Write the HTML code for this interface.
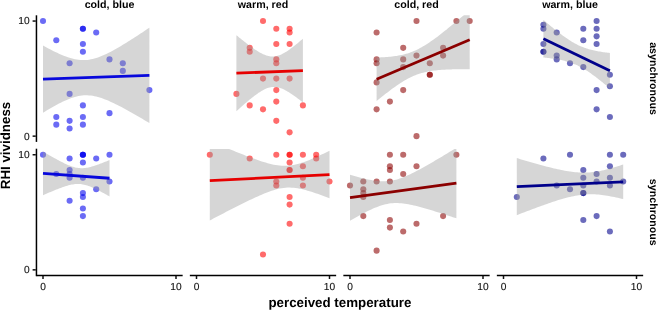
<!DOCTYPE html>
<html><head><meta charset="utf-8"><title>RHI vividness</title>
<style>html,body{margin:0;padding:0;background:#fff}svg{display:block;will-change:transform}text{font-family:"Liberation Sans",Arial,sans-serif;fill:#000;text-rendering:geometricPrecision}.b{font-weight:bold}.t{font-size:10.2px;fill:#111;stroke:#111;stroke-width:.12px}</style></head>
<body>
<svg width="658" height="310" viewBox="0 0 658 310">
<rect width="658" height="310" fill="#fff"/>
<defs>
<clipPath id="c00"><rect x="36.35" y="15.30" width="146.30" height="126.60"/></clipPath>
<clipPath id="c01"><rect x="189.85" y="15.30" width="146.30" height="126.60"/></clipPath>
<clipPath id="c02"><rect x="343.35" y="15.30" width="146.30" height="126.60"/></clipPath>
<clipPath id="c03"><rect x="496.85" y="15.30" width="146.30" height="126.60"/></clipPath>
<clipPath id="c10"><rect x="36.35" y="149.00" width="146.30" height="126.60"/></clipPath>
<clipPath id="c11"><rect x="189.85" y="149.00" width="146.30" height="126.60"/></clipPath>
<clipPath id="c12"><rect x="343.35" y="149.00" width="146.30" height="126.60"/></clipPath>
<clipPath id="c13"><rect x="496.85" y="149.00" width="146.30" height="126.60"/></clipPath>
</defs>
<g clip-path="url(#c00)">
<g fill="#0000ee" fill-opacity="0.58">
<circle cx="43.00" cy="21.05" r="3.05"/>
<circle cx="82.90" cy="28.77" r="3.05"/>
<circle cx="82.90" cy="28.77" r="3.05"/>
<circle cx="96.20" cy="32.56" r="3.05"/>
<circle cx="56.30" cy="40.27" r="3.05"/>
<circle cx="82.90" cy="44.07" r="3.05"/>
<circle cx="82.90" cy="51.78" r="3.05"/>
<circle cx="69.60" cy="63.29" r="3.05"/>
<circle cx="109.50" cy="59.38" r="3.05"/>
<circle cx="122.80" cy="63.29" r="3.05"/>
<circle cx="122.80" cy="70.89" r="3.05"/>
<circle cx="149.40" cy="90.11" r="3.05"/>
<circle cx="69.60" cy="93.91" r="3.05"/>
<circle cx="82.90" cy="105.42" r="3.05"/>
<circle cx="109.50" cy="113.13" r="3.05"/>
<circle cx="56.30" cy="116.93" r="3.05"/>
<circle cx="56.30" cy="124.64" r="3.05"/>
<circle cx="69.60" cy="120.84" r="3.05"/>
<circle cx="69.60" cy="128.43" r="3.05"/>
<circle cx="82.90" cy="116.93" r="3.05"/>
<circle cx="82.90" cy="124.64" r="3.05"/>
</g>
<polygon points="43.00,45.56 44.77,46.52 46.55,47.48 48.32,48.42 50.09,49.34 51.87,50.24 53.64,51.13 55.41,51.99 57.19,52.83 58.96,53.65 60.73,54.43 62.51,55.18 64.28,55.89 66.05,56.57 67.83,57.20 69.60,57.78 71.37,58.31 73.15,58.78 74.92,59.18 76.69,59.52 78.47,59.78 80.24,59.97 82.01,60.08 83.79,60.10 85.56,60.04 87.33,59.90 89.11,59.67 90.88,59.37 92.65,58.98 94.43,58.53 96.20,58.00 97.97,57.41 99.75,56.76 101.52,56.06 103.29,55.31 105.07,54.51 106.84,53.68 108.61,52.80 110.39,51.90 112.16,50.96 113.93,50.00 115.71,49.01 117.48,48.00 119.25,46.97 121.03,45.92 122.80,44.86 124.57,43.78 126.35,42.69 128.12,41.58 129.89,40.47 131.67,39.34 133.44,38.21 135.21,37.06 136.99,35.91 138.76,34.76 140.53,33.59 142.31,32.42 144.08,31.24 145.85,30.06 147.63,28.87 149.40,27.68 149.40,123.07 147.63,122.01 145.85,120.95 144.08,119.89 142.31,118.84 140.53,117.80 138.76,116.76 136.99,115.73 135.21,114.70 133.44,113.69 131.67,112.68 129.89,111.68 128.12,110.69 126.35,109.71 124.57,108.75 122.80,107.80 121.03,106.86 119.25,105.94 117.48,105.04 115.71,104.15 113.93,103.29 112.16,102.45 110.39,101.64 108.61,100.86 106.84,100.12 105.07,99.41 103.29,98.74 101.52,98.11 99.75,97.53 97.97,97.01 96.20,96.55 94.43,96.15 92.65,95.82 90.88,95.56 89.11,95.39 87.33,95.29 85.56,95.27 83.79,95.34 82.01,95.49 80.24,95.72 78.47,96.04 76.69,96.43 74.92,96.89 73.15,97.42 71.37,98.02 69.60,98.67 67.83,99.38 66.05,100.14 64.28,100.94 62.51,101.78 60.73,102.66 58.96,103.57 57.19,104.51 55.41,105.47 53.64,106.46 51.87,107.47 50.09,108.51 48.32,109.55 46.55,110.62 44.77,111.70 43.00,112.79" fill="#999999" fill-opacity="0.4"/>
<line x1="43.00" y1="79.18" x2="149.40" y2="75.38" stroke="#0808dc" stroke-width="2.8"/>
</g>
<g clip-path="url(#c01)">
<g fill="#ff0000" fill-opacity="0.58">
<circle cx="263.00" cy="21.05" r="3.05"/>
<circle cx="276.30" cy="28.77" r="3.05"/>
<circle cx="289.60" cy="28.77" r="3.05"/>
<circle cx="289.60" cy="32.56" r="3.05"/>
<circle cx="276.30" cy="44.07" r="3.05"/>
<circle cx="289.60" cy="44.07" r="3.05"/>
<circle cx="249.70" cy="47.87" r="3.05"/>
<circle cx="249.70" cy="51.78" r="3.05"/>
<circle cx="276.30" cy="59.38" r="3.05"/>
<circle cx="276.30" cy="63.29" r="3.05"/>
<circle cx="263.00" cy="78.60" r="3.05"/>
<circle cx="276.30" cy="78.60" r="3.05"/>
<circle cx="289.60" cy="78.60" r="3.05"/>
<circle cx="276.30" cy="90.11" r="3.05"/>
<circle cx="236.40" cy="93.91" r="3.05"/>
<circle cx="276.30" cy="101.62" r="3.05"/>
<circle cx="249.70" cy="105.42" r="3.05"/>
<circle cx="263.00" cy="109.33" r="3.05"/>
<circle cx="302.90" cy="105.42" r="3.05"/>
<circle cx="276.30" cy="120.84" r="3.05"/>
<circle cx="289.60" cy="132.35" r="3.05"/>
</g>
<polygon points="236.40,35.20 237.51,36.12 238.62,37.03 239.72,37.93 240.83,38.83 241.94,39.72 243.05,40.60 244.16,41.48 245.27,42.35 246.38,43.21 247.48,44.06 248.59,44.90 249.70,45.73 250.81,46.54 251.92,47.34 253.03,48.12 254.13,48.89 255.24,49.64 256.35,50.37 257.46,51.07 258.57,51.75 259.68,52.39 260.78,53.01 261.89,53.59 263.00,54.13 264.11,54.62 265.22,55.07 266.32,55.47 267.43,55.81 268.54,56.09 269.65,56.31 270.76,56.46 271.87,56.54 272.98,56.55 274.08,56.49 275.19,56.35 276.30,56.15 277.41,55.87 278.52,55.53 279.62,55.13 280.73,54.67 281.84,54.16 282.95,53.60 284.06,52.99 285.17,52.34 286.27,51.65 287.38,50.93 288.49,50.18 289.60,49.40 290.71,48.60 291.82,47.77 292.93,46.93 294.03,46.06 295.14,45.18 296.25,44.29 297.36,43.38 298.47,42.45 299.57,41.52 300.68,40.58 301.79,39.63 302.90,38.66 302.90,102.42 301.79,101.55 300.68,100.69 299.57,99.83 298.47,98.99 297.36,98.15 296.25,97.33 295.14,96.52 294.03,95.73 292.93,94.95 291.82,94.20 290.71,93.46 289.60,92.74 288.49,92.05 287.38,91.39 286.27,90.76 285.17,90.16 284.06,89.60 282.95,89.08 281.84,88.60 280.73,88.18 279.62,87.81 278.52,87.49 277.41,87.24 276.30,87.06 275.19,86.94 274.08,86.89 272.98,86.92 271.87,87.02 270.76,87.18 269.65,87.42 268.54,87.73 267.43,88.10 266.32,88.53 265.22,89.01 264.11,89.55 263.00,90.14 261.89,90.76 260.78,91.43 259.68,92.14 258.57,92.87 257.46,93.64 256.35,94.43 255.24,95.24 254.13,96.08 253.03,96.93 251.92,97.81 250.81,98.69 249.70,99.60 248.59,100.51 247.48,101.44 246.38,102.38 245.27,103.33 244.16,104.28 243.05,105.25 241.94,106.22 240.83,107.20 239.72,108.19 238.62,109.18 237.51,110.18 236.40,111.18" fill="#999999" fill-opacity="0.4"/>
<line x1="236.40" y1="73.19" x2="302.90" y2="70.54" stroke="#e60000" stroke-width="2.8"/>
</g>
<g clip-path="url(#c02)">
<g fill="#8b0000" fill-opacity="0.58">
<circle cx="416.50" cy="21.05" r="3.05"/>
<circle cx="456.40" cy="21.05" r="3.05"/>
<circle cx="469.70" cy="21.05" r="3.05"/>
<circle cx="376.60" cy="32.56" r="3.05"/>
<circle cx="403.20" cy="47.87" r="3.05"/>
<circle cx="443.10" cy="47.87" r="3.05"/>
<circle cx="443.10" cy="55.58" r="3.05"/>
<circle cx="416.50" cy="55.58" r="3.05"/>
<circle cx="376.60" cy="59.38" r="3.05"/>
<circle cx="376.60" cy="63.29" r="3.05"/>
<circle cx="403.20" cy="59.38" r="3.05"/>
<circle cx="403.20" cy="67.09" r="3.05"/>
<circle cx="429.80" cy="63.29" r="3.05"/>
<circle cx="429.80" cy="74.80" r="3.05"/>
<circle cx="429.80" cy="74.80" r="3.05"/>
<circle cx="376.60" cy="82.40" r="3.05"/>
<circle cx="403.20" cy="90.11" r="3.05"/>
<circle cx="389.90" cy="101.62" r="3.05"/>
<circle cx="376.60" cy="109.33" r="3.05"/>
<circle cx="416.50" cy="136.15" r="3.05"/>
</g>
<polygon points="376.60,57.51 378.15,57.46 379.70,57.41 381.25,57.34 382.81,57.26 384.36,57.17 385.91,57.07 387.46,56.96 389.01,56.82 390.57,56.68 392.12,56.51 393.67,56.32 395.22,56.11 396.77,55.88 398.32,55.62 399.88,55.34 401.43,55.02 402.98,54.67 404.53,54.28 406.08,53.86 407.63,53.39 409.19,52.89 410.74,52.34 412.29,51.75 413.84,51.11 415.39,50.43 416.94,49.70 418.50,48.93 420.05,48.12 421.60,47.26 423.15,46.36 424.70,45.43 426.25,44.46 427.81,43.46 429.36,42.43 430.91,41.36 432.46,40.28 434.01,39.17 435.56,38.03 437.12,36.88 438.67,35.71 440.22,34.52 441.77,33.32 443.32,32.10 444.87,30.87 446.43,29.63 447.98,28.37 449.53,27.11 451.08,25.84 452.63,24.56 454.18,23.27 455.74,21.98 457.29,20.68 458.84,19.37 460.39,18.06 461.94,16.74 463.49,15.42 465.05,14.09 466.60,12.76 468.15,11.43 469.70,10.09 469.70,69.31 468.15,69.29 466.60,69.28 465.05,69.26 463.49,69.26 461.94,69.26 460.39,69.26 458.84,69.27 457.29,69.28 455.74,69.30 454.18,69.32 452.63,69.36 451.08,69.39 449.53,69.44 447.98,69.50 446.43,69.57 444.87,69.64 443.32,69.73 441.77,69.84 440.22,69.95 438.67,70.08 437.12,70.23 435.56,70.40 434.01,70.59 432.46,70.79 430.91,71.03 429.36,71.29 427.81,71.57 426.25,71.89 424.70,72.24 423.15,72.63 421.60,73.05 420.05,73.51 418.50,74.02 416.94,74.57 415.39,75.16 413.84,75.80 412.29,76.48 410.74,77.21 409.19,77.98 407.63,78.79 406.08,79.65 404.53,80.55 402.98,81.48 401.43,82.45 399.88,83.45 398.32,84.48 396.77,85.54 395.22,86.63 393.67,87.74 392.12,88.87 390.57,90.03 389.01,91.20 387.46,92.39 385.91,93.59 384.36,94.81 382.81,96.04 381.25,97.28 379.70,98.53 378.15,99.80 376.60,101.07" fill="#999999" fill-opacity="0.4"/>
<line x1="376.60" y1="79.29" x2="469.70" y2="39.70" stroke="#8b0000" stroke-width="2.8"/>
</g>
<g clip-path="url(#c03)">
<g fill="#00008b" fill-opacity="0.58">
<circle cx="596.60" cy="21.05" r="3.05"/>
<circle cx="596.60" cy="28.77" r="3.05"/>
<circle cx="596.60" cy="36.36" r="3.05"/>
<circle cx="596.60" cy="44.07" r="3.05"/>
<circle cx="583.30" cy="28.77" r="3.05"/>
<circle cx="583.30" cy="40.27" r="3.05"/>
<circle cx="543.40" cy="24.85" r="3.05"/>
<circle cx="543.40" cy="28.77" r="3.05"/>
<circle cx="556.70" cy="32.56" r="3.05"/>
<circle cx="543.40" cy="44.07" r="3.05"/>
<circle cx="543.40" cy="51.78" r="3.05"/>
<circle cx="543.40" cy="51.78" r="3.05"/>
<circle cx="556.70" cy="55.58" r="3.05"/>
<circle cx="556.70" cy="59.38" r="3.05"/>
<circle cx="570.00" cy="63.29" r="3.05"/>
<circle cx="583.30" cy="67.09" r="3.05"/>
<circle cx="609.90" cy="74.80" r="3.05"/>
<circle cx="609.90" cy="86.31" r="3.05"/>
<circle cx="596.60" cy="90.11" r="3.05"/>
<circle cx="596.60" cy="109.33" r="3.05"/>
<circle cx="609.90" cy="116.93" r="3.05"/>
</g>
<polygon points="543.40,19.88 544.51,20.84 545.62,21.78 546.73,22.73 547.83,23.66 548.94,24.60 550.05,25.52 551.16,26.44 552.27,27.36 553.38,28.26 554.48,29.16 555.59,30.05 556.70,30.94 557.81,31.81 558.92,32.67 560.02,33.52 561.13,34.36 562.24,35.19 563.35,36.00 564.46,36.80 565.57,37.58 566.68,38.35 567.78,39.10 568.89,39.83 570.00,40.54 571.11,41.23 572.22,41.90 573.33,42.54 574.43,43.17 575.54,43.77 576.65,44.34 577.76,44.90 578.87,45.42 579.98,45.93 581.08,46.41 582.19,46.86 583.30,47.29 584.41,47.71 585.52,48.09 586.62,48.46 587.73,48.81 588.84,49.14 589.95,49.45 591.06,49.74 592.17,50.02 593.28,50.28 594.38,50.53 595.49,50.77 596.60,50.99 597.71,51.21 598.82,51.41 599.93,51.60 601.03,51.78 602.14,51.96 603.25,52.13 604.36,52.28 605.47,52.44 606.58,52.58 607.68,52.72 608.79,52.86 609.90,52.99 609.90,88.56 608.79,87.62 607.68,86.68 606.58,85.75 605.47,84.83 604.36,83.91 603.25,83.00 602.14,82.10 601.03,81.20 599.93,80.31 598.82,79.44 597.71,78.57 596.60,77.71 595.49,76.86 594.38,76.03 593.28,75.21 592.17,74.40 591.06,73.61 589.95,72.83 588.84,72.07 587.73,71.33 586.62,70.61 585.52,69.91 584.41,69.22 583.30,68.56 582.19,67.93 581.08,67.31 579.98,66.72 578.87,66.15 577.76,65.61 576.65,65.09 575.54,64.60 574.43,64.13 573.33,63.68 572.22,63.26 571.11,62.86 570.00,62.48 568.89,62.12 567.78,61.78 566.68,61.46 565.57,61.15 564.46,60.87 563.35,60.59 562.24,60.34 561.13,60.09 560.02,59.86 558.92,59.64 557.81,59.43 556.70,59.23 555.59,59.05 554.48,58.87 553.38,58.70 552.27,58.53 551.16,58.38 550.05,58.23 548.94,58.08 547.83,57.94 546.73,57.81 545.62,57.68 544.51,57.56 543.40,57.44" fill="#999999" fill-opacity="0.4"/>
<line x1="543.40" y1="38.66" x2="609.90" y2="70.77" stroke="#00008b" stroke-width="2.8"/>
</g>
<g clip-path="url(#c10)">
<g fill="#0000ee" fill-opacity="0.58">
<circle cx="43.00" cy="154.75" r="3.05"/>
<circle cx="82.90" cy="154.75" r="3.05"/>
<circle cx="82.90" cy="154.75" r="3.05"/>
<circle cx="82.90" cy="154.75" r="3.05"/>
<circle cx="109.50" cy="154.75" r="3.05"/>
<circle cx="69.60" cy="158.55" r="3.05"/>
<circle cx="96.20" cy="158.55" r="3.05"/>
<circle cx="82.90" cy="162.47" r="3.05"/>
<circle cx="69.60" cy="170.06" r="3.05"/>
<circle cx="56.30" cy="173.97" r="3.05"/>
<circle cx="69.60" cy="173.97" r="3.05"/>
<circle cx="69.60" cy="177.77" r="3.05"/>
<circle cx="82.90" cy="177.77" r="3.05"/>
<circle cx="109.50" cy="181.57" r="3.05"/>
<circle cx="96.20" cy="189.28" r="3.05"/>
<circle cx="82.90" cy="193.08" r="3.05"/>
<circle cx="82.90" cy="196.99" r="3.05"/>
<circle cx="69.60" cy="200.79" r="3.05"/>
<circle cx="82.90" cy="208.50" r="3.05"/>
<circle cx="82.90" cy="216.10" r="3.05"/>
</g>
<polygon points="43.00,151.54 44.11,152.19 45.22,152.84 46.33,153.49 47.43,154.13 48.54,154.77 49.65,155.40 50.76,156.03 51.87,156.66 52.98,157.28 54.08,157.90 55.19,158.52 56.30,159.12 57.41,159.72 58.52,160.32 59.62,160.90 60.73,161.47 61.84,162.04 62.95,162.59 64.06,163.13 65.17,163.66 66.28,164.17 67.38,164.66 68.49,165.13 69.60,165.58 70.71,166.00 71.82,166.40 72.93,166.76 74.03,167.09 75.14,167.38 76.25,167.63 77.36,167.84 78.47,168.00 79.58,168.12 80.68,168.18 81.79,168.21 82.90,168.18 84.01,168.11 85.12,168.00 86.22,167.85 87.33,167.67 88.44,167.45 89.55,167.20 90.66,166.92 91.77,166.62 92.88,166.30 93.98,165.96 95.09,165.61 96.20,165.23 97.31,164.85 98.42,164.45 99.53,164.04 100.63,163.62 101.74,163.19 102.85,162.76 103.96,162.31 105.07,161.87 106.18,161.41 107.28,160.95 108.39,160.49 109.50,160.02 109.50,196.45 108.39,195.82 107.28,195.19 106.18,194.57 105.07,193.96 103.96,193.35 102.85,192.74 101.74,192.15 100.63,191.56 99.53,190.98 98.42,190.41 97.31,189.85 96.20,189.30 95.09,188.77 93.98,188.25 92.88,187.75 91.77,187.26 90.66,186.80 89.55,186.37 88.44,185.96 87.33,185.58 86.22,185.23 85.12,184.92 84.01,184.65 82.90,184.42 81.79,184.23 80.68,184.09 79.58,184.00 78.47,183.95 77.36,183.95 76.25,184.00 75.14,184.09 74.03,184.22 72.93,184.39 71.82,184.59 70.71,184.82 69.60,185.08 68.49,185.37 67.38,185.68 66.28,186.01 65.17,186.36 64.06,186.73 62.95,187.11 61.84,187.50 60.73,187.90 59.62,188.32 58.52,188.74 57.41,189.17 56.30,189.61 55.19,190.06 54.08,190.51 52.98,190.96 51.87,191.43 50.76,191.89 49.65,192.36 48.54,192.84 47.43,193.32 46.33,193.80 45.22,194.28 44.11,194.77 43.00,195.26" fill="#999999" fill-opacity="0.4"/>
<line x1="43.00" y1="173.40" x2="109.50" y2="178.23" stroke="#0808dc" stroke-width="2.8"/>
</g>
<g clip-path="url(#c11)">
<g fill="#ff0000" fill-opacity="0.58">
<circle cx="209.80" cy="154.75" r="3.05"/>
<circle cx="249.70" cy="158.55" r="3.05"/>
<circle cx="276.30" cy="154.75" r="3.05"/>
<circle cx="289.60" cy="154.75" r="3.05"/>
<circle cx="289.60" cy="154.75" r="3.05"/>
<circle cx="302.90" cy="154.75" r="3.05"/>
<circle cx="316.20" cy="154.75" r="3.05"/>
<circle cx="316.20" cy="158.55" r="3.05"/>
<circle cx="289.60" cy="162.47" r="3.05"/>
<circle cx="302.90" cy="166.26" r="3.05"/>
<circle cx="289.60" cy="170.06" r="3.05"/>
<circle cx="289.60" cy="170.06" r="3.05"/>
<circle cx="302.90" cy="177.77" r="3.05"/>
<circle cx="276.30" cy="181.57" r="3.05"/>
<circle cx="276.30" cy="185.48" r="3.05"/>
<circle cx="302.90" cy="185.48" r="3.05"/>
<circle cx="329.50" cy="181.57" r="3.05"/>
<circle cx="289.60" cy="196.99" r="3.05"/>
<circle cx="289.60" cy="204.59" r="3.05"/>
<circle cx="289.60" cy="223.81" r="3.05"/>
<circle cx="263.00" cy="254.54" r="3.05"/>
</g>
<polygon points="209.80,140.84 211.79,141.68 213.79,142.53 215.78,143.38 217.78,144.22 219.78,145.06 221.77,145.90 223.76,146.73 225.76,147.57 227.75,148.40 229.75,149.22 231.75,150.04 233.74,150.86 235.74,151.67 237.73,152.47 239.72,153.27 241.72,154.06 243.72,154.85 245.71,155.63 247.70,156.39 249.70,157.15 251.69,157.89 253.69,158.62 255.69,159.34 257.68,160.04 259.68,160.72 261.67,161.38 263.66,162.01 265.66,162.61 267.65,163.18 269.65,163.71 271.64,164.20 273.64,164.64 275.63,165.02 277.63,165.34 279.62,165.59 281.62,165.76 283.62,165.85 285.61,165.85 287.61,165.76 289.60,165.59 291.60,165.32 293.59,164.97 295.59,164.55 297.58,164.05 299.57,163.48 301.57,162.86 303.56,162.19 305.56,161.47 307.56,160.70 309.55,159.91 311.55,159.08 313.54,158.23 315.53,157.35 317.53,156.46 319.52,155.54 321.52,154.61 323.51,153.67 325.51,152.71 327.50,151.75 329.50,150.77 329.50,198.33 327.50,197.56 325.51,196.79 323.51,196.04 321.52,195.30 319.52,194.57 317.53,193.86 315.53,193.17 313.54,192.50 311.55,191.85 309.55,191.22 307.56,190.63 305.56,190.07 303.56,189.56 301.57,189.09 299.57,188.67 297.58,188.31 295.59,188.01 293.59,187.79 291.60,187.64 289.60,187.58 287.61,187.61 285.61,187.73 283.62,187.93 281.62,188.22 279.62,188.60 277.63,189.05 275.63,189.57 273.64,190.16 271.64,190.80 269.65,191.49 267.65,192.22 265.66,192.99 263.66,193.80 261.67,194.64 259.68,195.50 257.68,196.38 255.69,197.28 253.69,198.20 251.69,199.14 249.70,200.08 247.70,201.04 245.71,202.02 243.72,202.99 241.72,203.98 239.72,204.98 237.73,205.98 235.74,206.99 233.74,208.00 231.75,209.02 229.75,210.05 227.75,211.07 225.76,212.11 223.76,213.14 221.77,214.18 219.78,215.22 217.78,216.27 215.78,217.31 213.79,218.36 211.79,219.41 209.80,220.46" fill="#999999" fill-opacity="0.4"/>
<line x1="209.80" y1="180.65" x2="329.50" y2="174.55" stroke="#e60000" stroke-width="2.8"/>
</g>
<g clip-path="url(#c12)">
<g fill="#8b0000" fill-opacity="0.58">
<circle cx="389.90" cy="154.75" r="3.05"/>
<circle cx="403.20" cy="154.75" r="3.05"/>
<circle cx="456.40" cy="154.75" r="3.05"/>
<circle cx="389.90" cy="166.26" r="3.05"/>
<circle cx="389.90" cy="170.06" r="3.05"/>
<circle cx="416.50" cy="166.26" r="3.05"/>
<circle cx="403.20" cy="173.97" r="3.05"/>
<circle cx="363.30" cy="181.57" r="3.05"/>
<circle cx="376.60" cy="181.57" r="3.05"/>
<circle cx="389.90" cy="181.57" r="3.05"/>
<circle cx="350.00" cy="185.48" r="3.05"/>
<circle cx="363.30" cy="189.28" r="3.05"/>
<circle cx="363.30" cy="193.08" r="3.05"/>
<circle cx="363.30" cy="196.99" r="3.05"/>
<circle cx="363.30" cy="216.10" r="3.05"/>
<circle cx="389.90" cy="220.01" r="3.05"/>
<circle cx="443.10" cy="216.10" r="3.05"/>
<circle cx="389.90" cy="227.61" r="3.05"/>
<circle cx="403.20" cy="231.52" r="3.05"/>
<circle cx="416.50" cy="223.81" r="3.05"/>
<circle cx="376.60" cy="250.63" r="3.05"/>
</g>
<polygon points="350.00,174.66 351.77,175.19 353.55,175.71 355.32,176.22 357.09,176.72 358.87,177.21 360.64,177.68 362.41,178.13 364.19,178.57 365.96,178.99 367.73,179.39 369.51,179.76 371.28,180.10 373.05,180.41 374.83,180.68 376.60,180.92 378.37,181.11 380.15,181.24 381.92,181.33 383.69,181.35 385.47,181.32 387.24,181.21 389.01,181.04 390.79,180.80 392.56,180.48 394.33,180.10 396.11,179.65 397.88,179.14 399.65,178.56 401.43,177.94 403.20,177.26 404.97,176.54 406.75,175.78 408.52,174.98 410.29,174.16 412.07,173.30 413.84,172.41 415.61,171.51 417.39,170.58 419.16,169.64 420.93,168.68 422.71,167.71 424.48,166.72 426.25,165.72 428.03,164.71 429.80,163.70 431.57,162.67 433.35,161.64 435.12,160.60 436.89,159.55 438.67,158.50 440.44,157.44 442.21,156.38 443.99,155.32 445.76,154.25 447.53,153.17 449.31,152.10 451.08,151.02 452.85,149.94 454.63,148.85 456.40,147.76 456.40,218.37 454.63,217.77 452.85,217.17 451.08,216.58 449.31,215.98 447.53,215.40 445.76,214.81 443.99,214.23 442.21,213.65 440.44,213.07 438.67,212.50 436.89,211.94 435.12,211.38 433.35,210.83 431.57,210.28 429.80,209.74 428.03,209.22 426.25,208.69 424.48,208.18 422.71,207.68 420.93,207.20 419.16,206.73 417.39,206.27 415.61,205.83 413.84,205.41 412.07,205.02 410.29,204.65 408.52,204.30 406.75,203.99 404.97,203.72 403.20,203.49 401.43,203.30 399.65,203.16 397.88,203.08 396.11,203.05 394.33,203.09 392.56,203.19 390.79,203.37 389.01,203.61 387.24,203.92 385.47,204.31 383.69,204.76 381.92,205.27 380.15,205.84 378.37,206.47 376.60,207.14 374.83,207.86 373.05,208.62 371.28,209.42 369.51,210.25 367.73,211.11 365.96,211.99 364.19,212.90 362.41,213.82 360.64,214.77 358.87,215.72 357.09,216.70 355.32,217.68 353.55,218.68 351.77,219.69 350.00,220.71" fill="#999999" fill-opacity="0.4"/>
<line x1="350.00" y1="197.68" x2="456.40" y2="183.07" stroke="#8b0000" stroke-width="2.8"/>
</g>
<g clip-path="url(#c13)">
<g fill="#00008b" fill-opacity="0.58">
<circle cx="543.40" cy="158.55" r="3.05"/>
<circle cx="570.00" cy="154.75" r="3.05"/>
<circle cx="609.90" cy="154.75" r="3.05"/>
<circle cx="623.20" cy="154.75" r="3.05"/>
<circle cx="609.90" cy="166.26" r="3.05"/>
<circle cx="583.30" cy="170.06" r="3.05"/>
<circle cx="596.60" cy="173.97" r="3.05"/>
<circle cx="583.30" cy="177.77" r="3.05"/>
<circle cx="609.90" cy="177.77" r="3.05"/>
<circle cx="596.60" cy="181.57" r="3.05"/>
<circle cx="623.20" cy="181.57" r="3.05"/>
<circle cx="556.70" cy="185.48" r="3.05"/>
<circle cx="583.30" cy="185.48" r="3.05"/>
<circle cx="609.90" cy="185.48" r="3.05"/>
<circle cx="570.00" cy="189.28" r="3.05"/>
<circle cx="583.30" cy="193.08" r="3.05"/>
<circle cx="583.30" cy="193.08" r="3.05"/>
<circle cx="516.80" cy="196.99" r="3.05"/>
<circle cx="596.60" cy="216.10" r="3.05"/>
<circle cx="583.30" cy="220.01" r="3.05"/>
<circle cx="609.90" cy="231.52" r="3.05"/>
</g>
<polygon points="516.80,158.09 518.57,158.62 520.35,159.15 522.12,159.67 523.89,160.20 525.67,160.72 527.44,161.24 529.21,161.75 530.99,162.26 532.76,162.77 534.53,163.27 536.31,163.77 538.08,164.26 539.85,164.75 541.63,165.23 543.40,165.70 545.17,166.17 546.95,166.63 548.72,167.09 550.49,167.53 552.27,167.97 554.04,168.39 555.81,168.80 557.59,169.20 559.36,169.59 561.13,169.96 562.91,170.31 564.68,170.65 566.45,170.96 568.23,171.26 570.00,171.53 571.77,171.77 573.55,171.99 575.32,172.17 577.09,172.33 578.87,172.45 580.64,172.54 582.41,172.58 584.19,172.59 585.96,172.56 587.73,172.49 589.51,172.38 591.28,172.23 593.05,172.04 594.83,171.81 596.60,171.55 598.37,171.25 600.15,170.92 601.92,170.55 603.69,170.16 605.47,169.74 607.24,169.30 609.01,168.83 610.79,168.35 612.56,167.84 614.33,167.32 616.11,166.78 617.88,166.22 619.65,165.66 621.43,165.08 623.20,164.49 623.20,199.12 621.43,198.69 619.65,198.27 617.88,197.86 616.11,197.47 614.33,197.09 612.56,196.73 610.79,196.38 609.01,196.06 607.24,195.75 605.47,195.47 603.69,195.21 601.92,194.98 600.15,194.78 598.37,194.61 596.60,194.47 594.83,194.37 593.05,194.30 591.28,194.27 589.51,194.28 587.73,194.33 585.96,194.42 584.19,194.55 582.41,194.72 580.64,194.93 578.87,195.18 577.09,195.46 575.32,195.78 573.55,196.13 571.77,196.50 570.00,196.91 568.23,197.34 566.45,197.80 564.68,198.27 562.91,198.77 561.13,199.28 559.36,199.82 557.59,200.36 555.81,200.92 554.04,201.50 552.27,202.08 550.49,202.68 548.72,203.28 546.95,203.90 545.17,204.52 543.40,205.15 541.63,205.78 539.85,206.43 538.08,207.08 536.31,207.73 534.53,208.39 532.76,209.05 530.99,209.72 529.21,210.39 527.44,211.07 525.67,211.75 523.89,212.43 522.12,213.11 520.35,213.80 518.57,214.49 516.80,215.18" fill="#999999" fill-opacity="0.4"/>
<line x1="516.80" y1="186.63" x2="623.20" y2="181.80" stroke="#00008b" stroke-width="2.8"/>
</g>
<g>
<g stroke="#000" stroke-width="1.5" fill="none">
<line x1="36.45" y1="15.3" x2="36.45" y2="141.9"/>
<line x1="36.45" y1="148.7" x2="36.45" y2="276.2"/>
<line x1="36.45" y1="275.45" x2="182.65" y2="275.45"/>
<line x1="189.85" y1="275.45" x2="336.15" y2="275.45"/>
<line x1="343.35" y1="275.45" x2="489.65" y2="275.45"/>
<line x1="496.85" y1="275.45" x2="643.15" y2="275.45"/>
</g>
<g stroke="#111" stroke-width="1.5" fill="none">
<line x1="32.6" y1="136.15" x2="35.8" y2="136.15"/>
<line x1="32.6" y1="21.05" x2="35.8" y2="21.05"/>
<line x1="32.6" y1="269.85" x2="35.8" y2="269.85"/>
<line x1="32.6" y1="154.75" x2="35.8" y2="154.75"/>
<line x1="43.00" y1="276" x2="43.00" y2="279"/>
<line x1="176.00" y1="276" x2="176.00" y2="279"/>
<line x1="196.50" y1="276" x2="196.50" y2="279"/>
<line x1="329.50" y1="276" x2="329.50" y2="279"/>
<line x1="350.00" y1="276" x2="350.00" y2="279"/>
<line x1="483.00" y1="276" x2="483.00" y2="279"/>
<line x1="503.50" y1="276" x2="503.50" y2="279"/>
<line x1="636.50" y1="276" x2="636.50" y2="279"/>
</g>
<text class="t" x="29.6" y="139.50" text-anchor="end">0</text>
<text class="t" x="29.6" y="24.40" text-anchor="end">10</text>
<text class="t" x="29.6" y="273.20" text-anchor="end">0</text>
<text class="t" x="29.6" y="158.10" text-anchor="end">10</text>
<text class="t" x="43.00" y="289.65" text-anchor="middle">0</text>
<text class="t" x="176.00" y="289.65" text-anchor="middle">10</text>
<text class="t" x="196.50" y="289.65" text-anchor="middle">0</text>
<text class="t" x="329.50" y="289.65" text-anchor="middle">10</text>
<text class="t" x="350.00" y="289.65" text-anchor="middle">0</text>
<text class="t" x="483.00" y="289.65" text-anchor="middle">10</text>
<text class="t" x="503.50" y="289.65" text-anchor="middle">0</text>
<text class="t" x="636.50" y="289.65" text-anchor="middle">10</text>
<text class="b" font-size="10.67" x="109.50" y="8.3" text-anchor="middle">cold, blue</text>
<text class="b" font-size="10.67" x="263.00" y="8.3" text-anchor="middle">warm, red</text>
<text class="b" font-size="10.67" x="416.50" y="8.3" text-anchor="middle">cold, red</text>
<text class="b" font-size="10.67" x="570.00" y="8.3" text-anchor="middle">warm, blue</text>
<text class="b" font-size="10.67" transform="translate(649.9,78.60) rotate(90)" text-anchor="middle">asynchronous</text>
<text class="b" font-size="10.67" transform="translate(649.9,212.30) rotate(90)" text-anchor="middle">synchronous</text>
<text class="b" font-size="13.33" transform="translate(9.9,145.5) rotate(-90)" text-anchor="middle">RHI vividness</text>
<text class="b" font-size="13.33" x="339.9" y="306.7" text-anchor="middle">perceived temperature</text>
</g>
</svg>
</body></html>
